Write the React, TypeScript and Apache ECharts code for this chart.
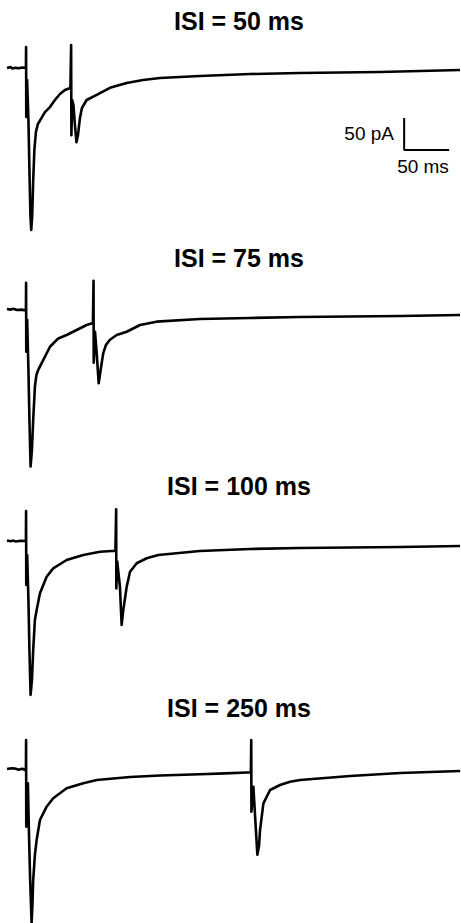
import React, { useEffect, useRef } from "react";
import * as echarts from "echarts";

// Titles of the four panels
const panelTitles = ["ISI = 50 ms", "ISI = 75 ms", "ISI = 100 ms", "ISI = 250 ms"];

// Traces: [time (ms, stimulus 1 at 0), current (pA, relative to baseline)]
const traceIsi50: number[][] = [
  [-21, 0], [-17, 1.5], [-15, -1], [-12, 0.5], [-8, -0.5], [-4, 0.8], [0, 0],
  [0.2, 32.8], [0.4, -76.6], [1.3, -18.8], [2.8, -81], [3.9, -159], [5, -230], [5.9, -253],
  [7, -230], [8.1, -175], [9.4, -128], [11.1, -100], [13.3, -87.5], [17.4, -78], [21.1, -69],
  [26.7, -61], [32.2, -50], [37.8, -40.6], [43.3, -34.4], [49.4, -31.3],
  [50.2, 36], [50.5, -105], [51.4, -50], [52.8, -58], [54.4, -89], [56.1, -116], [57.8, -105],
  [60, -78], [62.2, -62.5], [67.4, -50], [78.6, -42], [93.3, -31], [111.9, -23.4], [130, -18.8],
  [148.9, -15.6], [193, -12.5], [249, -9.4], [304, -7.8], [393, -6.3], [482, -3.1],
];
const traceIsi75: number[][] = [
  [-21, 0], [-17, -1], [-14, 0.5], [-10, -1.6], [-5, -1], [0, -2.3],
  [0.2, 41], [0.4, -66.7], [1.4, -17], [2.8, -95], [3.9, -173], [5.2, -246], [6.7, -220],
  [8.1, -173], [10, -121], [11.7, -103], [13.7, -95], [19.2, -80], [26.7, -59], [35.9, -46],
  [45.2, -40.6], [56.3, -32.8], [67.4, -25], [74.4, -21.9],
  [75.1, 44], [75.3, -84], [76.7, -35.5], [78.6, -69], [80.8, -116], [83, -95], [85.9, -69],
  [88.9, -56], [93.3, -48], [100.8, -40.6], [111.9, -35.5], [126.7, -25], [145, -19.8],
  [193, -15.6], [249, -14], [304, -12.5], [416, -11], [482, -9.4],
];
const traceIsi100: number[][] = [
  [-21, 0.8], [-17, -0.5], [-14, 0.6], [-11.1, -0.8], [-6, 0.5], [0, 0],
  [0.2, 46.9], [0.4, -68.8], [1.4, -21.9], [2.8, -92], [3.9, -170], [5.2, -240.6], [6.7, -217],
  [8.1, -170], [10, -123], [11.9, -108], [15.6, -81.7], [23, -55.8], [30.3, -42.7], [45.2, -29.7],
  [63.7, -21.9], [82.2, -16.7], [99.4, -15.2],
  [100.2, 49.5], [100.4, -74], [101.4, -32.3], [104.4, -71.4], [106.3, -131], [108.1, -108],
  [111.9, -71.4], [115.6, -48], [123, -34.8], [134.1, -27], [147, -21.9], [193, -15.6],
  [249, -12.5], [304, -10.9], [416, -9.4], [482, -7.8],
];
const traceIsi250: number[][] = [
  [-21, 0], [-16, 1.2], [-12.2, 0.8], [-8, -1], [-4, 0.5], [-1.1, -1.6], [0, -1.6],
  [0.2, 45.3], [0.4, -90], [2.2, -22.3], [3.3, -95], [4.7, -173], [6.3, -240], [7.2, -213],
  [8.1, -173], [10, -134], [11.9, -111], [15.6, -79.7], [23, -58.9], [30.3, -45.8], [45.2, -30.2],
  [63.7, -22.3], [78.6, -17.2], [115.6, -12.5], [148.9, -10.2], [193.3, -8.3], [221, -6.8],
  [245.2, -5.4], [249.8, -5],
  [250.2, 45.3], [250.4, -66.7], [252.6, -27.7], [254.4, -72], [257, -134], [258.9, -119],
  [260, -95], [263.7, -53.6], [271.1, -32.8], [282.2, -25], [293.3, -19.8], [304.4, -17.2],
  [360, -10.9], [415.6, -6.3], [482.2, -3.1],
];
const traces = [traceIsi50, traceIsi75, traceIsi100, traceIsi250];

// Scale bar (50 pA vertical, 50 ms horizontal) in panel-1 data units
const scaleBar: number[][] = [[420, -78], [420, -128], [470, -128]];
const scaleLabels = ["50 pA", "50 ms"];

// baseline pixel row of each panel
const baselines = [68, 309, 541, 769];
const titleYs = [21, 258, 486, 708];
const Y_MAX = 60;
const Y_MIN = -240;
const PX_PER_PA = 0.64;

export default function App() {
  const ref = useRef<HTMLDivElement>(null);
  useEffect(() => {
    if (!ref.current) return;
    const chart = echarts.init(ref.current, null, { renderer: "svg" });
    const h = (Y_MAX - Y_MIN) * PX_PER_PA;
    const grids = baselines.map((b) => ({ left: 7, width: 453, top: b - Y_MAX * PX_PER_PA, height: h }));
    const xAxes = baselines.map((_, i) => ({
      type: "value", gridIndex: i, min: -21, max: 482, show: false,
    }));
    const yAxes = baselines.map((_, i) => ({
      type: "value", gridIndex: i, min: Y_MIN, max: Y_MAX, show: false,
    }));
    const series: any[] = traces.map((d, i) => ({
      type: "line", xAxisIndex: i, yAxisIndex: i, data: d, showSymbol: false,
      clip: false, lineStyle: { color: "#000", width: 2.6, join: "round" },
    }));
    series.push({
      type: "line", xAxisIndex: 0, yAxisIndex: 0, data: scaleBar, showSymbol: false,
      clip: false, lineStyle: { color: "#000", width: 2 },
    });
    const graphic: any[] = panelTitles.map((t, i) => ({
      type: "text", x: 239, y: titleYs[i],
      style: {
        text: t, fill: "#000", font: "bold 25px 'Liberation Sans', Arial, sans-serif",
        align: "center", verticalAlign: "middle",
      },
    }));
    graphic.push({
      type: "text", x: 394, y: 133.5,
      style: { text: scaleLabels[0], fill: "#000", font: "19px 'Liberation Sans', Arial, sans-serif", align: "right", verticalAlign: "middle" },
    });
    graphic.push({
      type: "text", x: 423, y: 166.7,
      style: { text: scaleLabels[1], fill: "#000", font: "19px 'Liberation Sans', Arial, sans-serif", align: "center", verticalAlign: "middle" },
    });
    chart.setOption({
      animation: false,
      backgroundColor: "#fff",
      grid: grids,
      xAxis: xAxes,
      yAxis: yAxes,
      series,
      graphic,
    });
    return () => chart.dispose();
  }, []);
  return (
    <div
      ref={ref}
      style={{ position: "absolute", left: 0, top: 0, width: 461, height: 923 }}
    />
  );
}
